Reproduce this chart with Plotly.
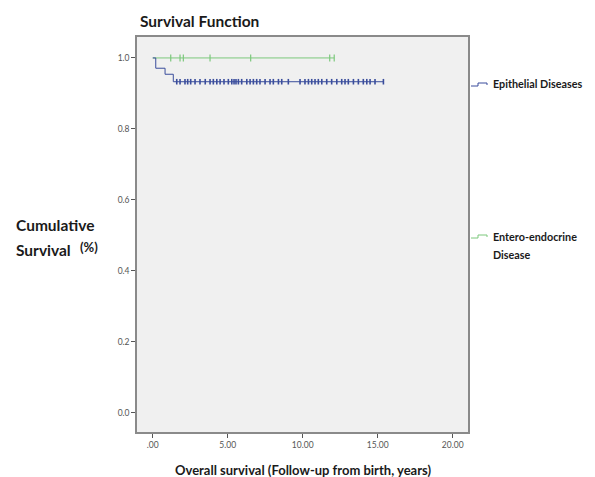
import plotly.graph_objects as go

# Data
epi_step_t = [0.0, 0.2, 0.82, 1.37, 15.38]
epi_step_s = [1.0, 0.971, 0.954, 0.933, 0.933]
epi_cens_t = [1.6, 1.82, 2.15, 2.33, 2.53, 2.82, 3.15, 3.5, 3.82, 4.04, 4.27, 4.49,
              4.75, 5.04, 5.27, 5.42, 5.55, 5.71, 5.93, 6.27, 6.49, 6.71, 6.93, 7.15,
              7.49, 7.82, 8.04, 8.38, 8.6, 9.04, 9.82, 10.15, 10.38, 10.6, 10.82, 11.04,
              11.27, 11.6, 11.93, 12.27, 12.6, 12.82, 13.04, 13.38, 13.71, 14.04, 14.27,
              14.49, 14.82, 15.38]
epi_cens_s = [0.933] * len(epi_cens_t)

ent_step_t = [0.0, 12.1]
ent_step_s = [1.0, 1.0]
ent_cens_t = [1.2, 1.82, 2.04, 3.82, 6.53, 11.8, 12.1]
ent_cens_s = [1.0] * len(ent_cens_t)

x_ticks = [0, 5, 10, 15, 20]
x_ticklabels = [".00", "5.00", "10.00", "15.00", "20.00"]
y_ticks = [0.0, 0.2, 0.4, 0.6, 0.8, 1.0]
y_ticklabels = ["0.0", "0.2", "0.4", "0.6", "0.8", "1.0"]

BLUE = "#3a4d9c"
GREEN = "#7cc87c"
FONT = "Lato"

fig = go.Figure()
fig.add_trace(go.Scatter(x=ent_step_t, y=ent_step_s, mode="lines", line_shape="hv",
                         line=dict(color=GREEN, width=1), hoverinfo="skip"))
fig.add_trace(go.Scatter(x=ent_cens_t, y=ent_cens_s, mode="markers",
                         marker=dict(symbol="line-ns", size=5, line=dict(color=GREEN, width=1.2))))
fig.add_trace(go.Scatter(x=epi_step_t, y=epi_step_s, mode="lines", line_shape="hv",
                         line=dict(color=BLUE, width=1), hoverinfo="skip"))
fig.add_trace(go.Scatter(x=epi_cens_t, y=epi_cens_s, mode="markers",
                         marker=dict(symbol="line-ns", size=4, line=dict(color=BLUE, width=1.6))))

axis_common = dict(showgrid=False, zeroline=False, showline=True, linecolor="#8a8a8a",
                   linewidth=1.5, mirror=True, ticks="outside", ticklen=4, tickwidth=1,
                   tickcolor="#555", tickfont=dict(family=FONT, size=8.5, color="#555"))

fig.update_layout(
    width=595, height=477,
    margin=dict(l=129, r=135, t=29, b=53),
    paper_bgcolor="white", plot_bgcolor="#f0f0f0",
    showlegend=False,
    xaxis=dict(range=[-1.05, 21.02], tickvals=x_ticks, ticktext=x_ticklabels, **axis_common),
    yaxis=dict(range=[-0.054, 1.059], tickvals=y_ticks, ticktext=y_ticklabels, **axis_common),
    font=dict(family=FONT),
)

def ann(text, x, y, size, xanchor="left", yanchor="middle", color="#1a1a1a"):
    fig.add_annotation(text=text, x=x, y=y, xref="paper", yref="paper", showarrow=False,
                       xanchor=xanchor, yanchor=yanchor, align="left",
                       font=dict(family=FONT, size=size, color=color))

ann("<b>Survival Function</b>", 0.003, 1.0405, 15.5)
ann("<b>Overall survival (Follow-up from birth, years)</b>", 0.5, -0.0962, 13, xanchor="center")
ann("<b>Cumulative</b>", -0.3716, 0.524, 15.5)
ann("<b>Survival</b>", -0.3716, 0.4608, 15.5)
ann("<b>(%)</b>", -0.178, 0.468, 13)
ann("<b>Epithelial Diseases</b>", 1.0695, 0.8835, 10.8)
ann("<b>Entero-endocrine</b>", 1.0695, 0.4937, 10.8)
ann("<b>Disease</b>", 1.0695, 0.4506, 10.8)

# legend glyphs (step symbols) in paper coordinates
def px(xp):
    return (xp - 137) / 331
def py(yp):
    return (432 - yp) / 395

def glyph(y0, color):
    path = (f"M {px(471)},{py(y0+2)} L {px(478)},{py(y0+2)} L {px(478)},{py(y0-1)} "
            f"L {px(487)},{py(y0-1)} L {px(487)},{py(y0+1)}")
    fig.add_shape(type="path", path=path, xref="paper", yref="paper",
                  line=dict(color=color, width=1))

glyph(84, BLUE)
glyph(236, GREEN)

fig.write_html("out.html")
